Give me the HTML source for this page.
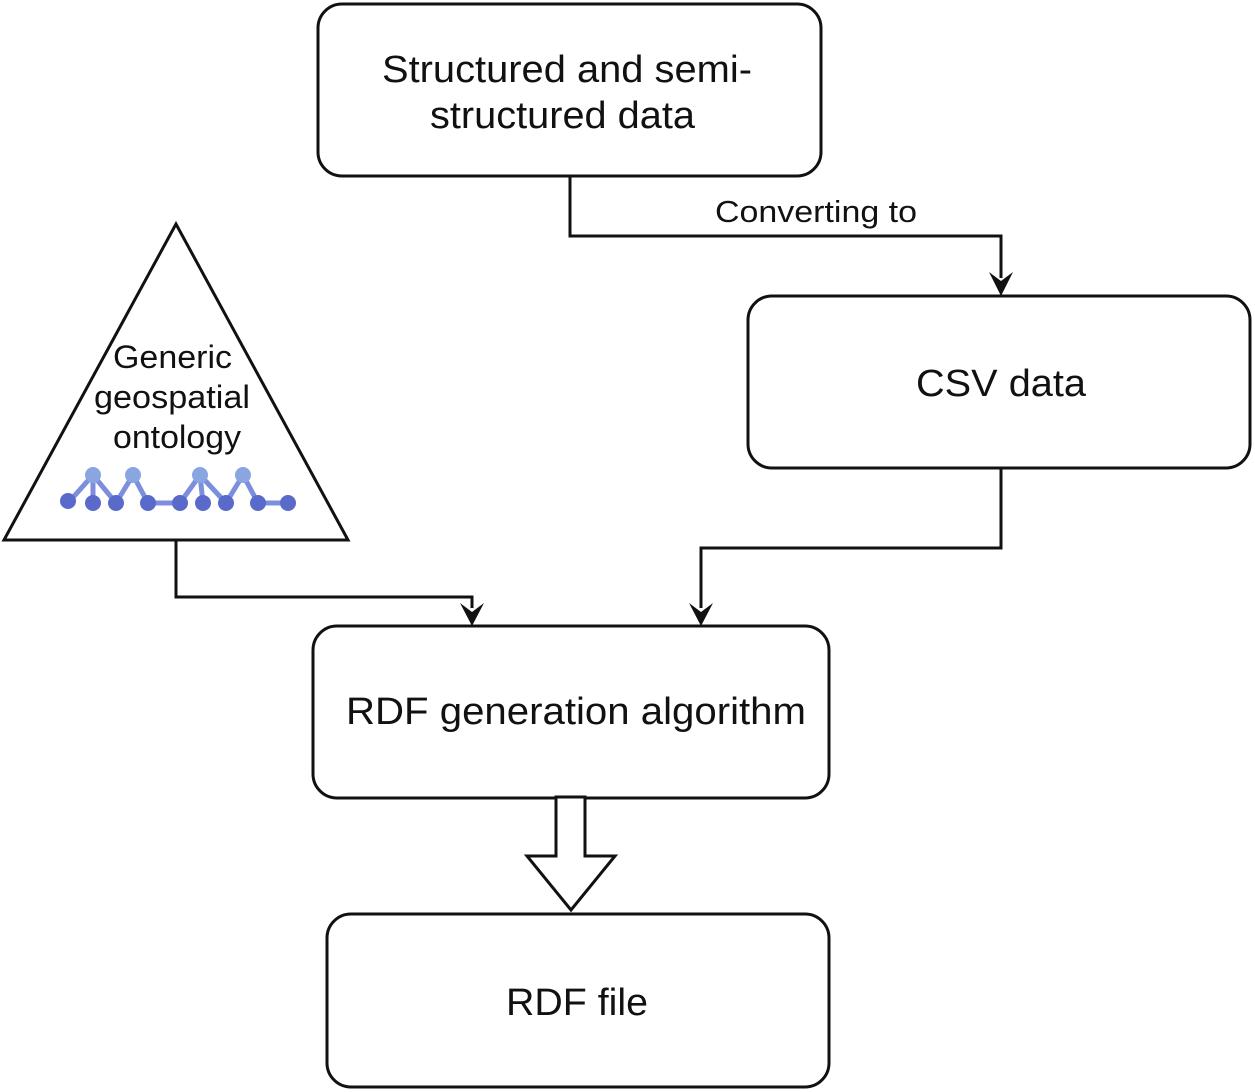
<!DOCTYPE html>
<html><head><style>
html,body{margin:0;padding:0;background:#fff;}
svg{display:block;}
text{font-family:"Liberation Sans",Arial,sans-serif;fill:#111;}
</style></head><body>
<svg width="1255" height="1092" viewBox="0 0 1255 1092" xmlns="http://www.w3.org/2000/svg">
<g fill="none" stroke="#111" stroke-width="3">
<rect x="318" y="4" width="503" height="172" rx="24"/>
<rect x="748" y="296" width="502" height="172" rx="24"/>
<rect x="313" y="626" width="516" height="172" rx="24"/>
<rect x="327" y="914" width="502" height="173" rx="24"/>
<polygon points="176,224 4,540 348,540"/>
<polyline points="570,176 570,236 1001,236 1001,278"/>
<polyline points="1001,468 1001,548 701,548 701,608"/>
<polyline points="176,540 176,597 472,597 472,608"/>
<polygon points="556,797 585,797 585,856 615,856 571,910 527,856 556,856" fill="#fff"/>
</g>
<g fill="#111">
<polygon points="989,272 1001,281 1013,272 1001,296"/>
<polygon points="460,603 472,612 484,603 472,626"/>
<polygon points="689,603 701,612 713,603 701,626"/>
</g>
<g fill="#5a6acb">
<g stroke="#7d8fdc" stroke-width="5" fill="none">
<polyline points="68,503 93,475 116,503 133,475 148,503 180,503 200,475 226,503 243,475 258,503 288,503"/>
<line x1="93" y1="475" x2="93" y2="503"/>
<line x1="200" y1="475" x2="203" y2="503"/>
</g>
<circle cx="93" cy="475" r="8" fill="#8aa6e0"/>
<circle cx="133" cy="475" r="8" fill="#8aa6e0"/>
<circle cx="200" cy="475" r="8" fill="#8aa6e0"/>
<circle cx="243" cy="475" r="8" fill="#8aa6e0"/>
<circle cx="68" cy="501" r="8"/><circle cx="93" cy="503" r="8"/><circle cx="116" cy="503" r="8"/>
<circle cx="148" cy="503" r="8"/><circle cx="180" cy="503" r="8"/><circle cx="203" cy="503" r="8"/>
<circle cx="226" cy="503" r="8"/><circle cx="258" cy="503" r="8"/><circle cx="288" cy="503" r="8"/>
</g>
<g lengthAdjust="spacingAndGlyphs">
<text x="382" y="82" font-size="38" textLength="370" lengthAdjust="spacingAndGlyphs">Structured and semi-</text>
<text x="430" y="128" font-size="38" textLength="265" lengthAdjust="spacingAndGlyphs">structured data</text>
<text x="715" y="222" font-size="31" textLength="202" lengthAdjust="spacingAndGlyphs">Converting to</text>
<text x="916" y="396" font-size="38" textLength="170" lengthAdjust="spacingAndGlyphs">CSV data</text>
<text x="346" y="724" font-size="38" textLength="460" lengthAdjust="spacingAndGlyphs">RDF generation algorithm</text>
<text x="506" y="1015" font-size="38" textLength="142" lengthAdjust="spacingAndGlyphs">RDF file</text>
<text x="113" y="368" font-size="32" textLength="119" lengthAdjust="spacingAndGlyphs">Generic</text>
<text x="94" y="408" font-size="32" textLength="156" lengthAdjust="spacingAndGlyphs">geospatial</text>
<text x="113" y="448" font-size="32" textLength="128" lengthAdjust="spacingAndGlyphs">ontology</text>
</g>
</svg>
</body></html>
